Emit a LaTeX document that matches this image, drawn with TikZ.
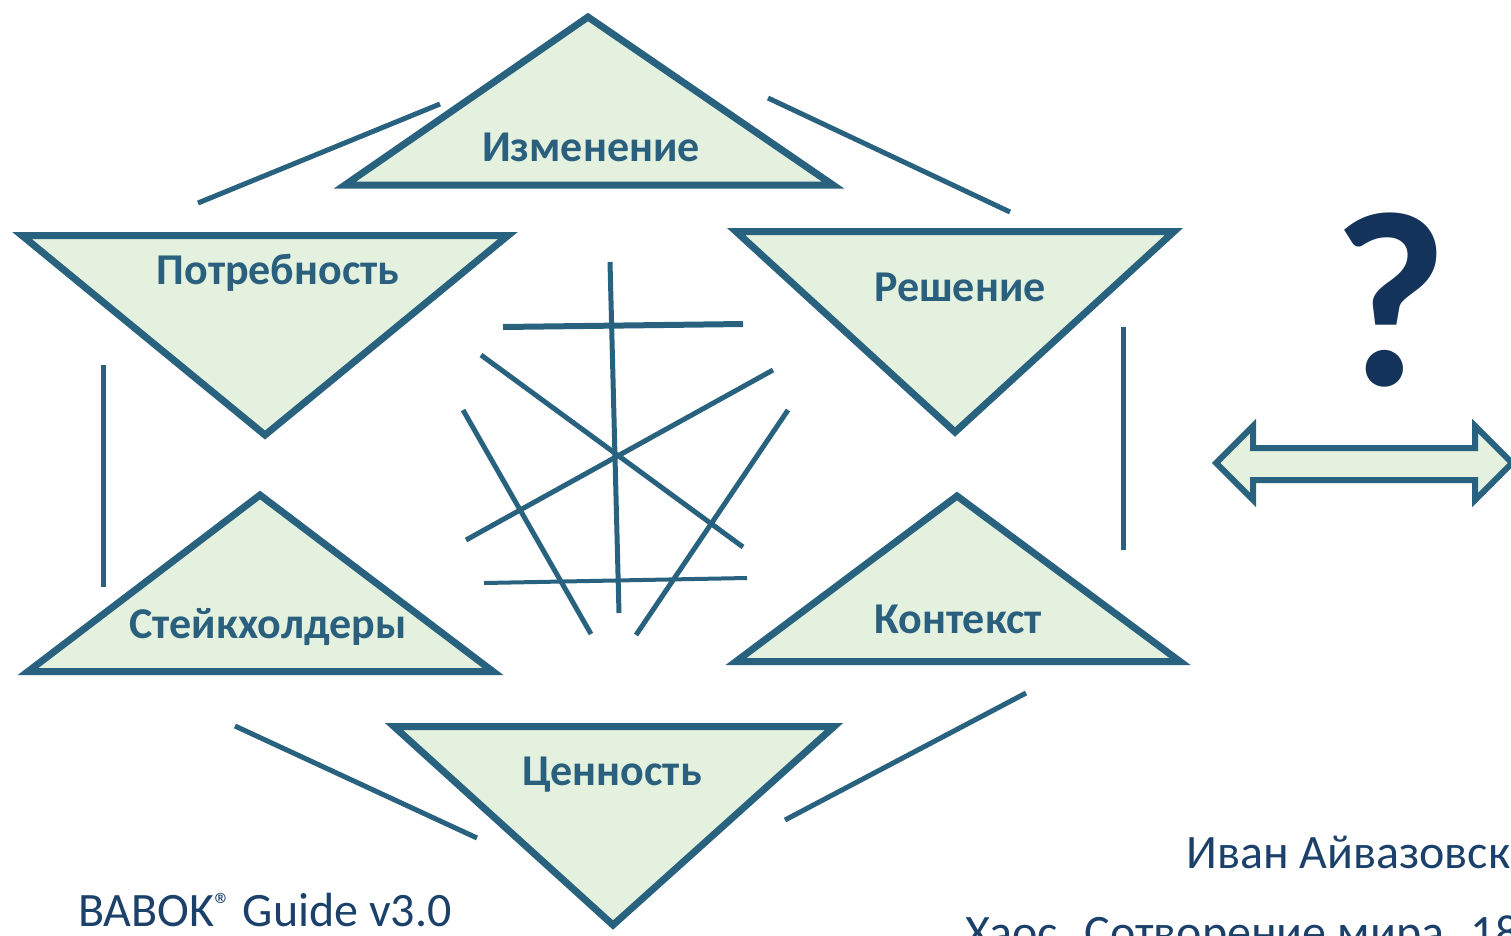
\documentclass[tikz,border=0pt]{standalone}
\usepackage{fontspec}
\setmainfont{Carlito}
\definecolor{edge}{HTML}{28627F}
\definecolor{leaf}{HTML}{E3F1DE}
\definecolor{labelc}{HTML}{2A5F7E}
\definecolor{navy}{HTML}{14335A}
\definecolor{capt}{HTML}{1B416B}
\begin{document}
\begin{tikzpicture}[x=1pt,y=-1pt,
  tri/.style={draw=edge,fill=leaf,line width=7pt,line join=miter},
  ln/.style={draw=edge,line width=5pt},
  lab/.style={text=labelc,font=\fontsize{44}{50}\selectfont\bfseries,inner sep=0pt},
  capt/.style={text=capt,font=\fontsize{48}{56}\selectfont,inner sep=0pt}]
\useasboundingbox (0,0) rectangle (1511,935);
\clip (0,0) rectangle (1511,935);
% triangles
\draw[tri] (588,17) -- (833,185) -- (345,185) -- cycle;
\draw[tri] (22,235.5) -- (508,235.5) -- (265,435) -- cycle;
\draw[tri] (736,231.5) -- (1174,231.5) -- (955,432) -- cycle;
\draw[tri] (260,495) -- (493,671.5) -- (28,671.5) -- cycle;
\draw[tri] (957,496) -- (1180,661.5) -- (736,661.5) -- cycle;
\draw[tri] (394,726.5) -- (834,726.5) -- (613,925) -- cycle;
% labels
\node[lab] (izm) at (591,147) {Изменение};
\node[lab] (potr) at (278,273) {Потребность};
\node[lab] (resh) at (960,287) {Решение};
\node[lab] (stk) at (268,627) {Стейкхолдеры};
\node[lab] (kont) at (958,619) {Контекст};
\node[lab] (cen) at (612,775) {Ценность};
% outer lines
\draw[ln] (198,203) -- (440,104);
\draw[ln] (768,98) -- (1010,212);
\draw[ln] (103,365) -- (103,587);
\draw[ln] (1123,327) -- (1123,550);
\draw[ln] (235,726) -- (477,838);
\draw[ln] (785,820) -- (1026,693);
% center tangle
\draw[ln] (610,262) -- (619,613);
\draw[ln,line width=6pt] (503,327) -- (743,324);
\draw[ln] (481,355) -- (743,547);
\draw[ln] (773,370) -- (466,540);
\draw[ln] (463,410) -- (591,634);
\draw[ln] (788,410) -- (636,635);
\draw[ln,line width=4pt] (484,583) -- (747,578);
% question mark
\node[text=navy,font=\fontsize{250}{260}\selectfont\bfseries,inner sep=0pt] (q) at (1390,300) {?};
% double arrow
\draw[draw=edge,fill=leaf,line width=6pt,line join=miter]
  (1216,463) -- (1253,426) -- (1253,448) -- (1475,448) -- (1475,426) -- (1512,463)
  -- (1475,500) -- (1475,480) -- (1253,480) -- (1253,500) -- cycle;
% captions
\node[capt,anchor=base west] (babok) at (78,926) {BABOK\textsuperscript{®} Guide v3.0};
\node[capt,anchor=base west] (ivan) at (1186,868) {Иван Айвазовск};
\node[capt,anchor=base west] (chaos) at (965,948) {Хаос. Сотворение мира. 18};
\end{tikzpicture}
\end{document}
